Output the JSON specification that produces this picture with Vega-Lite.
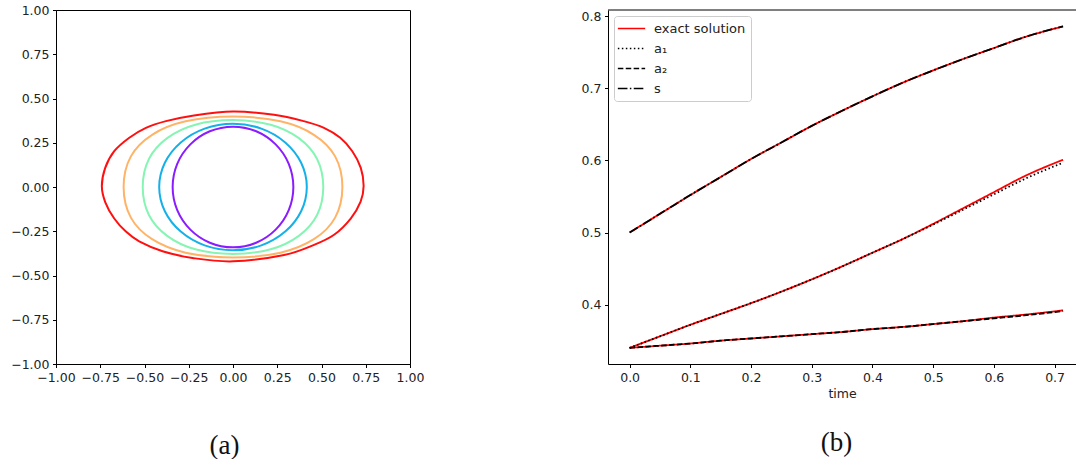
{
  "$schema": "https://vega.github.io/schema/vega-lite/v6.json",
  "background": "white",
  "padding": {"left": 10, "top": 3, "right": 0, "bottom": 0},
  "bounds": "flush",
  "spacing": 198,
  "config": {
    "font": "DejaVu Sans",
    "axis": {
      "grid": false,
      "domainColor": "#000",
      "domainWidth": 1,
      "tickColor": "#000",
      "tickSize": 3.5,
      "tickWidth": 1,
      "labelFont": "DejaVu Sans",
      "labelFontSize": 12.5,
      "labelColor": "#222",
      "labelPadding": 3.5,
      "labelOverlap": false,
      "labelBound": false,
      "labelFlush": false,
      "titleFont": "DejaVu Sans",
      "titleFontSize": 12.5,
      "titleFontWeight": "normal",
      "titleColor": "#222"
    },
    "legend": {
      "title": null,
      "fillColor": "white",
      "strokeColor": "#cccccc",
      "cornerRadius": 3,
      "padding": 5,
      "symbolType": "M-2.1,0H2.1",
      "symbolSize": 169,
      "symbolOffset": 5,
      "symbolStrokeWidth": 1.5,
      "labelFont": "DejaVu Sans",
      "labelFontSize": 13,
      "labelColor": "#222",
      "labelOffset": 15,
      "rowPadding": 5
    },
    "title": {"font": "Liberation Serif", "fontSize": 27, "fontWeight": "normal", "color": "#111"}
  },
  "resolve": {"scale": {"x": "independent", "y": "independent", "color": "independent", "strokeDash": "independent"}},
  "hconcat": [
    {
      "width": 354,
      "height": 354,
      "view": {"stroke": "#000", "strokeWidth": 1},
      "title": {"text": "(a)", "orient": "bottom", "anchor": "middle", "frame": "group", "offset": 49, "dx": -8.5},
      "data": {"values": [
        {"g": "p", "i": 0, "x": 0.341, "y": 0}, {"g": "p", "i": 1, "x": 0.315, "y": 0.131}, {"g": "p", "i": 2, "x": 0.241, "y": 0.241}, {"g": "p", "i": 3, "x": 0.131, "y": 0.315},
        {"g": "p", "i": 4, "x": 0, "y": 0.341}, {"g": "p", "i": 5, "x": -0.131, "y": 0.315}, {"g": "p", "i": 6, "x": -0.241, "y": 0.241}, {"g": "p", "i": 7, "x": -0.315, "y": 0.131},
        {"g": "p", "i": 8, "x": -0.341, "y": 0}, {"g": "p", "i": 9, "x": -0.315, "y": -0.131}, {"g": "p", "i": 10, "x": -0.241, "y": -0.241}, {"g": "p", "i": 11, "x": -0.131, "y": -0.315},
        {"g": "p", "i": 12, "x": 0, "y": -0.341}, {"g": "p", "i": 13, "x": 0.131, "y": -0.315}, {"g": "p", "i": 14, "x": 0.241, "y": -0.241}, {"g": "p", "i": 15, "x": 0.315, "y": -0.131},

        {"g": "b", "i": 0, "x": 0.417, "y": 0}, {"g": "b", "i": 1, "x": 0.385, "y": 0.137}, {"g": "b", "i": 2, "x": 0.295, "y": 0.252}, {"g": "b", "i": 3, "x": 0.16, "y": 0.33},
        {"g": "b", "i": 4, "x": 0, "y": 0.357}, {"g": "b", "i": 5, "x": -0.16, "y": 0.33}, {"g": "b", "i": 6, "x": -0.295, "y": 0.252}, {"g": "b", "i": 7, "x": -0.385, "y": 0.137},
        {"g": "b", "i": 8, "x": -0.417, "y": 0}, {"g": "b", "i": 9, "x": -0.385, "y": -0.137}, {"g": "b", "i": 10, "x": -0.295, "y": -0.252}, {"g": "b", "i": 11, "x": -0.16, "y": -0.33},
        {"g": "b", "i": 12, "x": 0, "y": -0.357}, {"g": "b", "i": 13, "x": 0.16, "y": -0.33}, {"g": "b", "i": 14, "x": 0.295, "y": -0.252}, {"g": "b", "i": 15, "x": 0.385, "y": -0.137},

        {"g": "g", "i": 0, "x": 0.51, "y": 0}, {"g": "g", "i": 1, "x": 0.475, "y": 0.158}, {"g": "g", "i": 2, "x": 0.372, "y": 0.276}, {"g": "g", "i": 3, "x": 0.213, "y": 0.352},
        {"g": "g", "i": 4, "x": 0, "y": 0.378}, {"g": "g", "i": 5, "x": -0.213, "y": 0.352}, {"g": "g", "i": 6, "x": -0.372, "y": 0.276}, {"g": "g", "i": 7, "x": -0.475, "y": 0.158},
        {"g": "g", "i": 8, "x": -0.51, "y": 0}, {"g": "g", "i": 9, "x": -0.475, "y": -0.158}, {"g": "g", "i": 10, "x": -0.372, "y": -0.276}, {"g": "g", "i": 11, "x": -0.213, "y": -0.352},
        {"g": "g", "i": 12, "x": 0, "y": -0.378}, {"g": "g", "i": 13, "x": 0.213, "y": -0.352}, {"g": "g", "i": 14, "x": 0.372, "y": -0.276}, {"g": "g", "i": 15, "x": 0.475, "y": -0.158},

        {"g": "o", "i": 0, "x": 0.618, "y": 0}, {"g": "o", "i": 1, "x": 0.577, "y": 0.173}, {"g": "o", "i": 2, "x": 0.457, "y": 0.295}, {"g": "o", "i": 3, "x": 0.268, "y": 0.371},
        {"g": "o", "i": 4, "x": 0, "y": 0.398}, {"g": "o", "i": 5, "x": -0.268, "y": 0.371}, {"g": "o", "i": 6, "x": -0.457, "y": 0.295}, {"g": "o", "i": 7, "x": -0.577, "y": 0.173},
        {"g": "o", "i": 8, "x": -0.618, "y": 0}, {"g": "o", "i": 9, "x": -0.577, "y": -0.173}, {"g": "o", "i": 10, "x": -0.457, "y": -0.295}, {"g": "o", "i": 11, "x": -0.268, "y": -0.371},
        {"g": "o", "i": 12, "x": 0, "y": -0.398}, {"g": "o", "i": 13, "x": 0.268, "y": -0.371}, {"g": "o", "i": 14, "x": 0.457, "y": -0.295}, {"g": "o", "i": 15, "x": 0.577, "y": -0.173},

        {"g": "r", "i": 0, "x": 0.738, "y": 0.005}, {"g": "r", "i": 1, "x": 0.722, "y": 0.108}, {"g": "r", "i": 2, "x": 0.674, "y": 0.202}, {"g": "r", "i": 3, "x": 0.606, "y": 0.278},
        {"g": "r", "i": 4, "x": 0.514, "y": 0.334}, {"g": "r", "i": 5, "x": 0.4, "y": 0.372}, {"g": "r", "i": 6, "x": 0.232, "y": 0.408}, {"g": "r", "i": 7, "x": 0, "y": 0.426},
        {"g": "r", "i": 8, "x": -0.229, "y": 0.403}, {"g": "r", "i": 9, "x": -0.379, "y": 0.372}, {"g": "r", "i": 10, "x": -0.492, "y": 0.334}, {"g": "r", "i": 11, "x": -0.586, "y": 0.278},
        {"g": "r", "i": 12, "x": -0.671, "y": 0.202}, {"g": "r", "i": 13, "x": -0.722, "y": 0.108}, {"g": "r", "i": 14, "x": -0.741, "y": 0.005}, {"g": "r", "i": 15, "x": -0.722, "y": -0.085},
        {"g": "r", "i": 16, "x": -0.671, "y": -0.178}, {"g": "r", "i": 17, "x": -0.605, "y": -0.252}, {"g": "r", "i": 18, "x": -0.53, "y": -0.307}, {"g": "r", "i": 19, "x": -0.398, "y": -0.363},
        {"g": "r", "i": 20, "x": -0.229, "y": -0.401}, {"g": "r", "i": 21, "x": 0, "y": -0.42}, {"g": "r", "i": 22, "x": 0.289, "y": -0.384}, {"g": "r", "i": 23, "x": 0.458, "y": -0.327},
        {"g": "r", "i": 24, "x": 0.571, "y": -0.27}, {"g": "r", "i": 25, "x": 0.665, "y": -0.178}, {"g": "r", "i": 26, "x": 0.721, "y": -0.082}
      ]},
      "mark": {"type": "line", "interpolate": "cardinal-closed", "strokeWidth": 2, "clip": true},
      "encoding": {
        "x": {"field": "x", "type": "quantitative", "scale": {"domain": [-1, 1], "nice": false},
              "axis": {"values": [-1, -0.75, -0.5, -0.25, 0, 0.25, 0.5, 0.75, 1], "format": ".2f", "title": null}},
        "y": {"field": "y", "type": "quantitative", "scale": {"domain": [-1, 1], "nice": false},
              "axis": {"values": [-1, -0.75, -0.5, -0.25, 0, 0.25, 0.5, 0.75, 1], "format": ".2f", "title": null}},
        "color": {"field": "g", "type": "nominal",
                  "scale": {"domain": ["p", "b", "g", "o", "r"], "range": ["#8a1cff", "#14b0e8", "#86f5b4", "#ffb366", "#ff1010"]},
                  "legend": null},
        "order": {"field": "i", "type": "quantitative"}
      }
    },
    {
      "width": 468,
      "height": 354,
      "view": {"stroke": null},
      "title": {"text": "(b)", "orient": "bottom", "anchor": "middle", "frame": "group", "offset": 30, "dx": -5.5},
      "layer": [
        {
          "data": {"values": [
            {"k": "exact solution", "c": "s", "t": 0, "v": 0.5}, {"k": "exact solution", "c": "s", "t": 0.05, "v": 0.526}, {"k": "exact solution", "c": "s", "t": 0.1, "v": 0.552},
            {"k": "exact solution", "c": "s", "t": 0.15, "v": 0.577}, {"k": "exact solution", "c": "s", "t": 0.2, "v": 0.602}, {"k": "exact solution", "c": "s", "t": 0.25, "v": 0.625},
            {"k": "exact solution", "c": "s", "t": 0.3, "v": 0.648}, {"k": "exact solution", "c": "s", "t": 0.35, "v": 0.669}, {"k": "exact solution", "c": "s", "t": 0.4, "v": 0.689},
            {"k": "exact solution", "c": "s", "t": 0.45, "v": 0.708}, {"k": "exact solution", "c": "s", "t": 0.5, "v": 0.725}, {"k": "exact solution", "c": "s", "t": 0.55, "v": 0.741},
            {"k": "exact solution", "c": "s", "t": 0.6, "v": 0.756}, {"k": "exact solution", "c": "s", "t": 0.65, "v": 0.771}, {"k": "exact solution", "c": "s", "t": 0.714, "v": 0.786},

            {"k": "exact solution", "c": "a1", "t": 0, "v": 0.34}, {"k": "exact solution", "c": "a1", "t": 0.05, "v": 0.356}, {"k": "exact solution", "c": "a1", "t": 0.1, "v": 0.372},
            {"k": "exact solution", "c": "a1", "t": 0.15, "v": 0.387}, {"k": "exact solution", "c": "a1", "t": 0.2, "v": 0.402}, {"k": "exact solution", "c": "a1", "t": 0.25, "v": 0.418},
            {"k": "exact solution", "c": "a1", "t": 0.3, "v": 0.435}, {"k": "exact solution", "c": "a1", "t": 0.35, "v": 0.453}, {"k": "exact solution", "c": "a1", "t": 0.4, "v": 0.472},
            {"k": "exact solution", "c": "a1", "t": 0.45, "v": 0.491}, {"k": "exact solution", "c": "a1", "t": 0.5, "v": 0.512}, {"k": "exact solution", "c": "a1", "t": 0.55, "v": 0.534},
            {"k": "exact solution", "c": "a1", "t": 0.6, "v": 0.556}, {"k": "exact solution", "c": "a1", "t": 0.65, "v": 0.578}, {"k": "exact solution", "c": "a1", "t": 0.714, "v": 0.601},

            {"k": "exact solution", "c": "a2", "t": 0, "v": 0.34}, {"k": "exact solution", "c": "a2", "t": 0.05, "v": 0.343}, {"k": "exact solution", "c": "a2", "t": 0.1, "v": 0.346},
            {"k": "exact solution", "c": "a2", "t": 0.15, "v": 0.35}, {"k": "exact solution", "c": "a2", "t": 0.2, "v": 0.353}, {"k": "exact solution", "c": "a2", "t": 0.25, "v": 0.356},
            {"k": "exact solution", "c": "a2", "t": 0.3, "v": 0.359}, {"k": "exact solution", "c": "a2", "t": 0.35, "v": 0.362}, {"k": "exact solution", "c": "a2", "t": 0.4, "v": 0.366},
            {"k": "exact solution", "c": "a2", "t": 0.45, "v": 0.369}, {"k": "exact solution", "c": "a2", "t": 0.5, "v": 0.373}, {"k": "exact solution", "c": "a2", "t": 0.55, "v": 0.377},
            {"k": "exact solution", "c": "a2", "t": 0.6, "v": 0.382}, {"k": "exact solution", "c": "a2", "t": 0.65, "v": 0.386}, {"k": "exact solution", "c": "a2", "t": 0.714, "v": 0.392},

            {"k": "a₁", "c": "a1", "t": 0, "v": 0.34}, {"k": "a₁", "c": "a1", "t": 0.05, "v": 0.356}, {"k": "a₁", "c": "a1", "t": 0.1, "v": 0.372},
            {"k": "a₁", "c": "a1", "t": 0.15, "v": 0.387}, {"k": "a₁", "c": "a1", "t": 0.2, "v": 0.402}, {"k": "a₁", "c": "a1", "t": 0.25, "v": 0.418},
            {"k": "a₁", "c": "a1", "t": 0.3, "v": 0.435}, {"k": "a₁", "c": "a1", "t": 0.35, "v": 0.453}, {"k": "a₁", "c": "a1", "t": 0.4, "v": 0.472},
            {"k": "a₁", "c": "a1", "t": 0.45, "v": 0.491}, {"k": "a₁", "c": "a1", "t": 0.5, "v": 0.511}, {"k": "a₁", "c": "a1", "t": 0.55, "v": 0.532},
            {"k": "a₁", "c": "a1", "t": 0.6, "v": 0.553}, {"k": "a₁", "c": "a1", "t": 0.65, "v": 0.574}, {"k": "a₁", "c": "a1", "t": 0.714, "v": 0.597},

            {"k": "a₂", "c": "a2", "t": 0, "v": 0.34}, {"k": "a₂", "c": "a2", "t": 0.05, "v": 0.343}, {"k": "a₂", "c": "a2", "t": 0.1, "v": 0.346},
            {"k": "a₂", "c": "a2", "t": 0.15, "v": 0.35}, {"k": "a₂", "c": "a2", "t": 0.2, "v": 0.353}, {"k": "a₂", "c": "a2", "t": 0.25, "v": 0.356},
            {"k": "a₂", "c": "a2", "t": 0.3, "v": 0.359}, {"k": "a₂", "c": "a2", "t": 0.35, "v": 0.362}, {"k": "a₂", "c": "a2", "t": 0.4, "v": 0.366},
            {"k": "a₂", "c": "a2", "t": 0.45, "v": 0.369}, {"k": "a₂", "c": "a2", "t": 0.5, "v": 0.373}, {"k": "a₂", "c": "a2", "t": 0.55, "v": 0.377},
            {"k": "a₂", "c": "a2", "t": 0.6, "v": 0.381}, {"k": "a₂", "c": "a2", "t": 0.65, "v": 0.385}, {"k": "a₂", "c": "a2", "t": 0.714, "v": 0.391},

            {"k": "s", "c": "s", "t": 0, "v": 0.5}, {"k": "s", "c": "s", "t": 0.05, "v": 0.526}, {"k": "s", "c": "s", "t": 0.1, "v": 0.552},
            {"k": "s", "c": "s", "t": 0.15, "v": 0.577}, {"k": "s", "c": "s", "t": 0.2, "v": 0.602}, {"k": "s", "c": "s", "t": 0.25, "v": 0.625},
            {"k": "s", "c": "s", "t": 0.3, "v": 0.648}, {"k": "s", "c": "s", "t": 0.35, "v": 0.669}, {"k": "s", "c": "s", "t": 0.4, "v": 0.689},
            {"k": "s", "c": "s", "t": 0.45, "v": 0.708}, {"k": "s", "c": "s", "t": 0.5, "v": 0.725}, {"k": "s", "c": "s", "t": 0.55, "v": 0.741},
            {"k": "s", "c": "s", "t": 0.6, "v": 0.756}, {"k": "s", "c": "s", "t": 0.65, "v": 0.771}, {"k": "s", "c": "s", "t": 0.714, "v": 0.786}
          ]},
          "mark": {"type": "line", "strokeWidth": 1.8, "interpolate": "monotone", "clip": true},
          "encoding": {
            "x": {"field": "t", "type": "quantitative", "scale": {"domain": [-0.0356, 0.7353], "nice": false, "zero": false},
                  "axis": {"values": [0, 0.1, 0.2, 0.3, 0.4, 0.5, 0.6, 0.7], "format": ".1f", "title": "time", "titlePadding": 4}},
            "y": {"field": "v", "type": "quantitative", "scale": {"domain": [0.3176, 0.8088], "nice": false, "zero": false},
                  "axis": {"values": [0.4, 0.5, 0.6, 0.7, 0.8], "format": ".1f", "title": null}},
            "color": {"field": "k", "type": "nominal",
                      "scale": {"domain": ["exact solution", "a₁", "a₂", "s"], "range": ["#ff0000", "#000000", "#000000", "#000000"]},
                      "legend": {"orient": "top-left", "offset": 6}},
            "strokeDash": {"field": "k", "type": "nominal",
                           "scale": {"domain": ["exact solution", "a₁", "a₂", "s"], "range": [[1, 0], [1.5, 2.5], [5.5, 2.4], [9.6, 2.4, 1.5, 2.4]]},
                           "legend": {"orient": "top-left", "offset": 6}},
            "detail": {"field": "c", "type": "nominal"}
          }
        },
        {
          "data": {"values": [{"edge": "top"}]},
          "mark": {"type": "rule", "color": "#000", "strokeWidth": 1},
          "encoding": {"y": {"datum": 0.8088}}
        }
      ]
    }
  ]
}
